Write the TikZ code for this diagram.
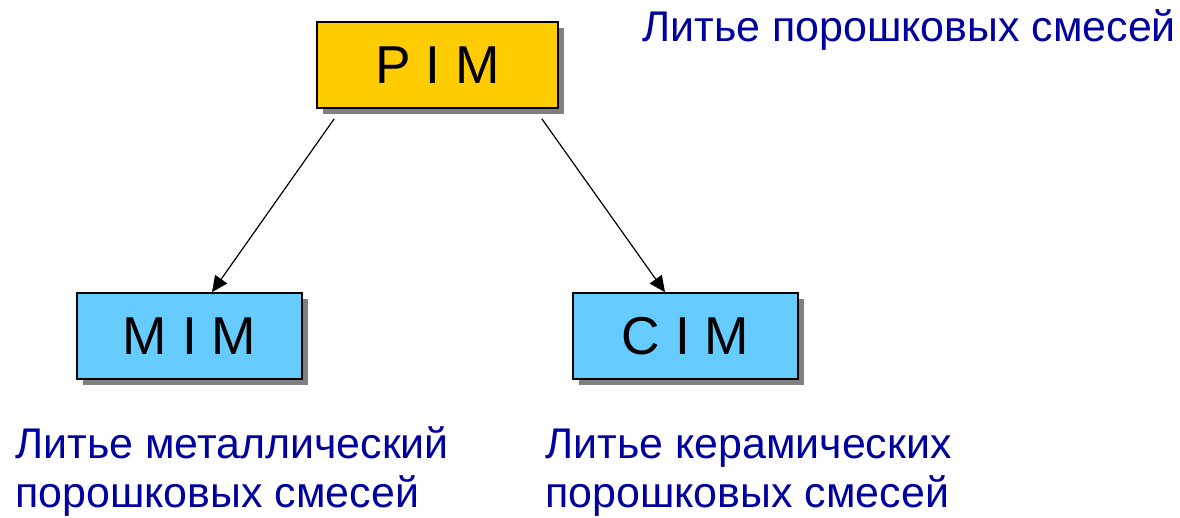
\documentclass[tikz,border=0pt]{standalone}
\usepackage{fontspec}
\setmainfont{Liberation Sans}
\usetikzlibrary{arrows.meta,shadows}
\definecolor{capblue}{RGB}{0,0,160}
\definecolor{pimgold}{RGB}{255,204,0}
\definecolor{subblue}{RGB}{102,204,255}
\tikzset{
  mbox/.style={draw=black, line width=1.2pt, inner sep=0pt,
    minimum width=#1, minimum height=64.5pt,
    drop shadow={shadow xshift=4.5pt, shadow yshift=-4.5pt, fill=black!50, opacity=1},
    font=\fontsize{40pt}{48pt}\selectfont},
  caption/.style={anchor=base west, inner sep=0pt, text=capblue,
    font=\fontsize{32.2pt}{38pt}\selectfont},
  arr/.style={draw=black, line width=0.9pt, -{Triangle[length=12pt,width=11pt]}}
}
\begin{document}
\begin{tikzpicture}[x=0.75pt, y=-0.75pt]
  \useasboundingbox (0,0) rectangle (1180,517);
  % process boxes
  \node[mbox=180.75pt, fill=pimgold] (pim) at (437.5,65) {P I M};
  \node[mbox=168.75pt, fill=subblue] (mim) at (189.5,336) {M I M};
  \node[mbox=168.75pt, fill=subblue] (cim) at (685.5,336) {C I M};
  % branches
  \draw[arr] ([shift={(18,10)}]pim.south west) -- ([xshift=22.5*0.75pt]mim.north);
  \draw[arr] ([shift={(-17,10)}]pim.south east) -- ([xshift=-20.5*0.75pt]cim.north);
  % captions
  \node[caption] (tcap) at (642,42) {Литье порошковых смесей};
  \node[caption] (mcap1) at (15,458) {Литье металлический};
  \node[caption] (mcap2) at (15,507) {порошковых смесей};
  \node[caption] (ccap1) at (545,458) {Литье керамических};
  \node[caption] (ccap2) at (545,507) {порошковых смесей};
\end{tikzpicture}
\end{document}
